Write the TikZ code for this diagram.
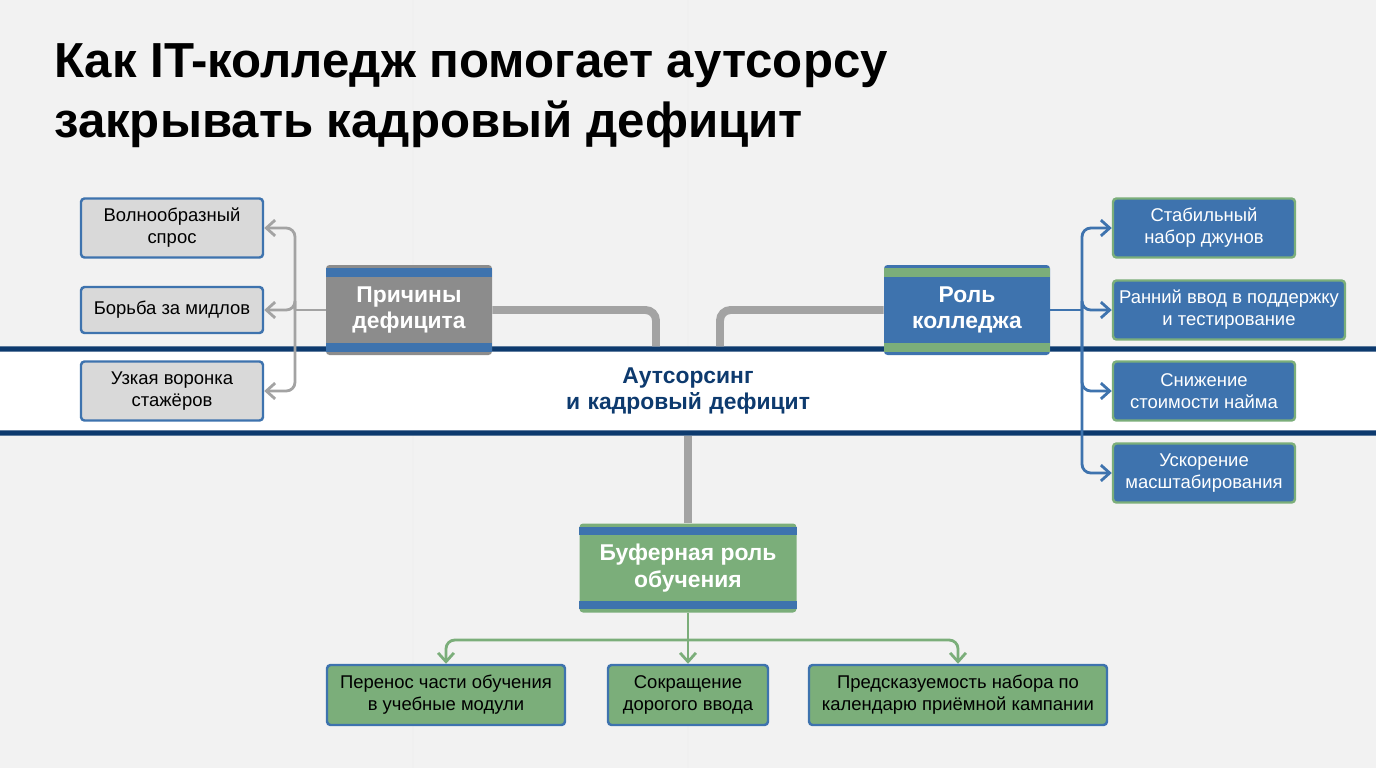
\documentclass[tikz,border=0pt]{standalone}
\usepackage{fontspec}
\setmainfont{Liberation Sans}
\usetikzlibrary{arrows.meta}
\definecolor{bgc}{HTML}{F2F2F2}
\definecolor{navy}{HTML}{0D3A6E}
\definecolor{blu}{HTML}{3E73AE}
\definecolor{grn}{HTML}{7BAE7A}
\definecolor{gry}{HTML}{8C8C8C}
\definecolor{lgry}{HTML}{D9D9D9}
\begin{document}
\begin{tikzpicture}[x=0.02cm,y=-0.02cm,
    leaf/.style={draw=blu,line width=1.4pt,rounded corners=2pt,align=center,font=\fontsize{10.5}{12.5}\selectfont,inner sep=0pt},
    head/.style={rounded corners=2pt,align=center,text=white,font=\bfseries\fontsize{13}{15}\selectfont,inner sep=0pt},
    thick line/.style={draw=gry!80,line width=4.5pt,rounded corners=6pt},
    branch/.style={line width=1.6pt,rounded corners=5pt,-{Straight Barb[length=5pt,width=9pt]}}]
    \fill[bgc] (0,0) rectangle (1376,768);
    \useasboundingbox (0,0) rectangle (1376,768);
    \draw[gray!12,line width=0.6pt] (413,0)--(413,768) (688,0)--(688,768) (0,385)--(1376,385);

    \node[anchor=west,font=\bfseries\fontsize{28}{34}\selectfont,align=left] (title) at (48,96)
        {Как IT-колледж помогает аутсорсу\\закрывать кадровый дефицит};

    % center
    \node[draw=navy,line width=3pt,fill=white,rounded corners=3pt,minimum width=292\pgflinewidth,
          text width=290*0.02cm,minimum height=84*0.02cm,align=center,text=navy,
          font=\bfseries\fontsize{13}{15}\selectfont] (core) at (688,391) {Аутсорсинг\\и кадровый дефицит};

    % headings
    \node[head,fill=gry,minimum width=166*0.02cm,minimum height=90*0.02cm] (cause) at (409,310) {Причины\\дефицита};
    \fill[blu] ([yshift=-2pt]cause.north west) rectangle ([yshift=-7pt]cause.north east);
    \fill[blu] ([yshift=2pt]cause.south west) rectangle ([yshift=7pt]cause.south east);
    \node[head,fill=blu,minimum width=166*0.02cm,minimum height=90*0.02cm] (role) at (967,310) {Роль\\колледжа};
    \fill[grn] ([yshift=-2pt]role.north west) rectangle ([yshift=-7pt]role.north east);
    \fill[grn] ([yshift=2pt]role.south west) rectangle ([yshift=7pt]role.south east);
    \node[head,fill=grn,minimum width=217*0.02cm,minimum height=89*0.02cm] (buffer) at (688,568) {Буферная роль\\обучения};
    \fill[blu] ([yshift=-2pt]buffer.north west) rectangle ([yshift=-7pt]buffer.north east);
    \fill[blu] ([yshift=2pt]buffer.south west) rectangle ([yshift=7pt]buffer.south east);

    % trunk lines
    \draw[thick line] (cause.east) -| ([xshift=-32*0.02cm]core.north);
    \draw[thick line] (role.west) -| ([xshift=32*0.02cm]core.north);
    \draw[thick line,rounded corners=0pt] (core.south) -- (buffer.north);

    % left leaves
    \node[leaf,fill=lgry,minimum width=182*0.02cm,minimum height=59*0.02cm] (wave) at (172,228) {Волнообразный\\спрос};
    \node[leaf,fill=lgry,minimum width=182*0.02cm,minimum height=46*0.02cm] (mid) at (172,310) {Борьба за мидлов};
    \node[leaf,fill=lgry,minimum width=182*0.02cm,minimum height=59*0.02cm] (funnel) at (172,391) {Узкая воронка\\стажёров};
    \coordinate (lfork) at (295,310);
    \draw[gry!80,line width=1.6pt] (cause.west) -- (lfork);
    \foreach \n in {wave,mid,funnel}
        \draw[branch,draw=gry!80] (lfork) |- (\n.east);

    % right leaves
    \node[leaf,draw=grn,fill=blu,text=white,minimum width=182*0.02cm,minimum height=59*0.02cm] (stable) at (1204,228) {Стабильный\\набор джунов};
    \node[leaf,draw=grn,fill=blu,text=white,minimum width=232*0.02cm,minimum height=59*0.02cm] (early) at (1229,310) {Ранний ввод в поддержку\\и тестирование};
    \node[leaf,draw=grn,fill=blu,text=white,minimum width=182*0.02cm,minimum height=59*0.02cm] (cost) at (1204,391) {Снижение\\стоимости найма};
    \node[leaf,draw=grn,fill=blu,text=white,minimum width=182*0.02cm,minimum height=59*0.02cm] (scale) at (1204,473) {Ускорение\\масштабирования};
    \coordinate (rfork) at (1082,310);
    \draw[blu,line width=1.6pt] (role.east) -- (rfork);
    \foreach \n in {stable,early,cost,scale}
        \draw[branch,draw=blu] (rfork) |- (\n.west);

    % bottom leaves
    \node[leaf,fill=grn,minimum width=238*0.02cm,minimum height=60*0.02cm] (modules) at (446,695) {Перенос части обучения\\в учебные модули};
    \node[leaf,fill=grn,minimum width=160*0.02cm,minimum height=60*0.02cm] (onboard) at (688,695) {Сокращение\\дорогого ввода};
    \node[leaf,fill=grn,minimum width=298*0.02cm,minimum height=60*0.02cm] (predict) at (958,695) {Предсказуемость набора по\\календарю приёмной кампании};
    \coordinate (bfork) at (688,640);
    \draw[grn,line width=1.6pt] (buffer.south) -- (bfork);
    \foreach \n in {modules,onboard,predict}
        \draw[branch,draw=grn] (bfork) -| (\n.north);
\end{tikzpicture}
\end{document}
